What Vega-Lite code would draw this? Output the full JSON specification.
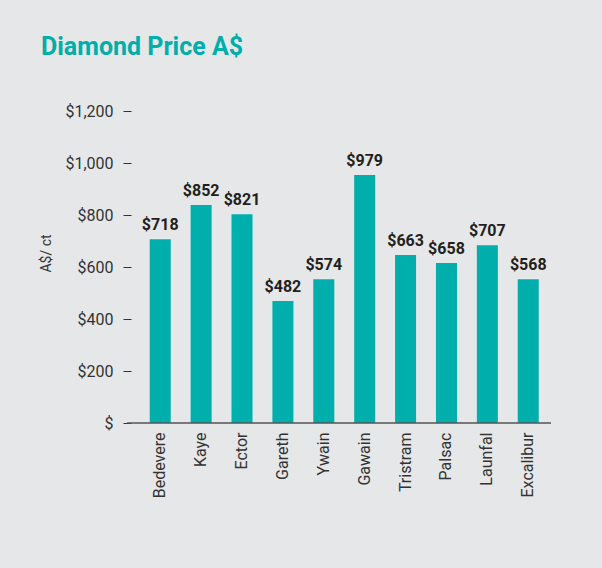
{
  "$schema": "https://vega.github.io/schema/vega-lite/v6.json",
  "width": 424,
  "height": 312,
  "autosize": {"type": "none"},
  "padding": {"left": 127, "top": 111, "right": 51, "bottom": 145},
  "background": "#e6e7e8",
  "title": {
    "text": "Diamond Price A$",
    "anchor": "start",
    "frame": "group",
    "dx": -86,
    "font": "Roboto",
    "fontSize": 25,
    "fontWeight": "bold",
    "color": "#00aeab",
    "offset": 23,
    "baseline": "alphabetic"
  },
  "config": {"view": {"stroke": null}, "font": "Roboto"},
  "layer": [
    {
      "data": {
        "values": [
          {"name": "Bedevere", "price": 707, "label": "$718"},
          {"name": "Kaye", "price": 838, "label": "$852"},
          {"name": "Ector", "price": 803, "label": "$821"},
          {"name": "Gareth", "price": 469, "label": "$482"},
          {"name": "Ywain", "price": 553, "label": "$574"},
          {"name": "Gawain", "price": 954, "label": "$979"},
          {"name": "Tristram", "price": 646, "label": "$663"},
          {"name": "Palsac", "price": 615, "label": "$658"},
          {"name": "Launfal", "price": 684, "label": "$707"},
          {"name": "Excalibur", "price": 553, "label": "$568"}
        ]
      },
      "encoding": {
        "x": {
          "field": "name",
          "type": "nominal",
          "sort": null,
          "scale": {"paddingInner": 0.486, "paddingOuter": 0.4275, "align": 0.65},
          "axis": {
            "title": null,
            "domain": false,
            "ticks": false,
            "labelAngle": -90,
            "labelAlign": "right",
            "labelBaseline": "middle",
            "labelPadding": 9,
            "labelFontSize": 16,
            "labelColor": "#333333",
            "labelFont": "Roboto"
          }
        },
        "y": {
          "field": "price",
          "type": "quantitative",
          "scale": {"domain": [0, 1200], "nice": false},
          "axis": {
            "values": [0, 200, 400, 600, 800, 1000, 1200],
            "labelExpr": "datum.value == 0 ? '$' : '$' + format(datum.value, ',')",
            "domain": false,
            "grid": false,
            "ticks": true,
            "tickSize": 8,
            "tickColor": "#333333",
            "tickWidth": 1,
            "offset": -4,
            "labelPadding": 10,
            "labelFontSize": 16,
            "labelColor": "#333333",
            "labelFont": "Roboto",
            "title": "A$/ ct",
            "titleFont": "Roboto",
            "titleFontSize": 14,
            "titleFontWeight": "normal",
            "titleColor": "#333333",
            "titleAngle": -90,
            "titleAlign": "center",
            "titleBaseline": "bottom",
            "titleX": -78,
            "titleY": 142
          }
        }
      },
      "layer": [
        {"mark": {"type": "bar", "color": "#00afab"}},
        {
          "mark": {
            "type": "text",
            "dy": -9,
            "baseline": "alphabetic",
            "fontWeight": "bold",
            "fontSize": 16,
            "font": "Roboto",
            "color": "#231f20"
          },
          "encoding": {"text": {"field": "label"}}
        }
      ]
    },
    {
      "data": {"values": [{}]},
      "mark": {"type": "rule", "color": "#555555", "strokeWidth": 1.5},
      "encoding": {"y": {"datum": 0, "type": "quantitative"}}
    }
  ]
}
